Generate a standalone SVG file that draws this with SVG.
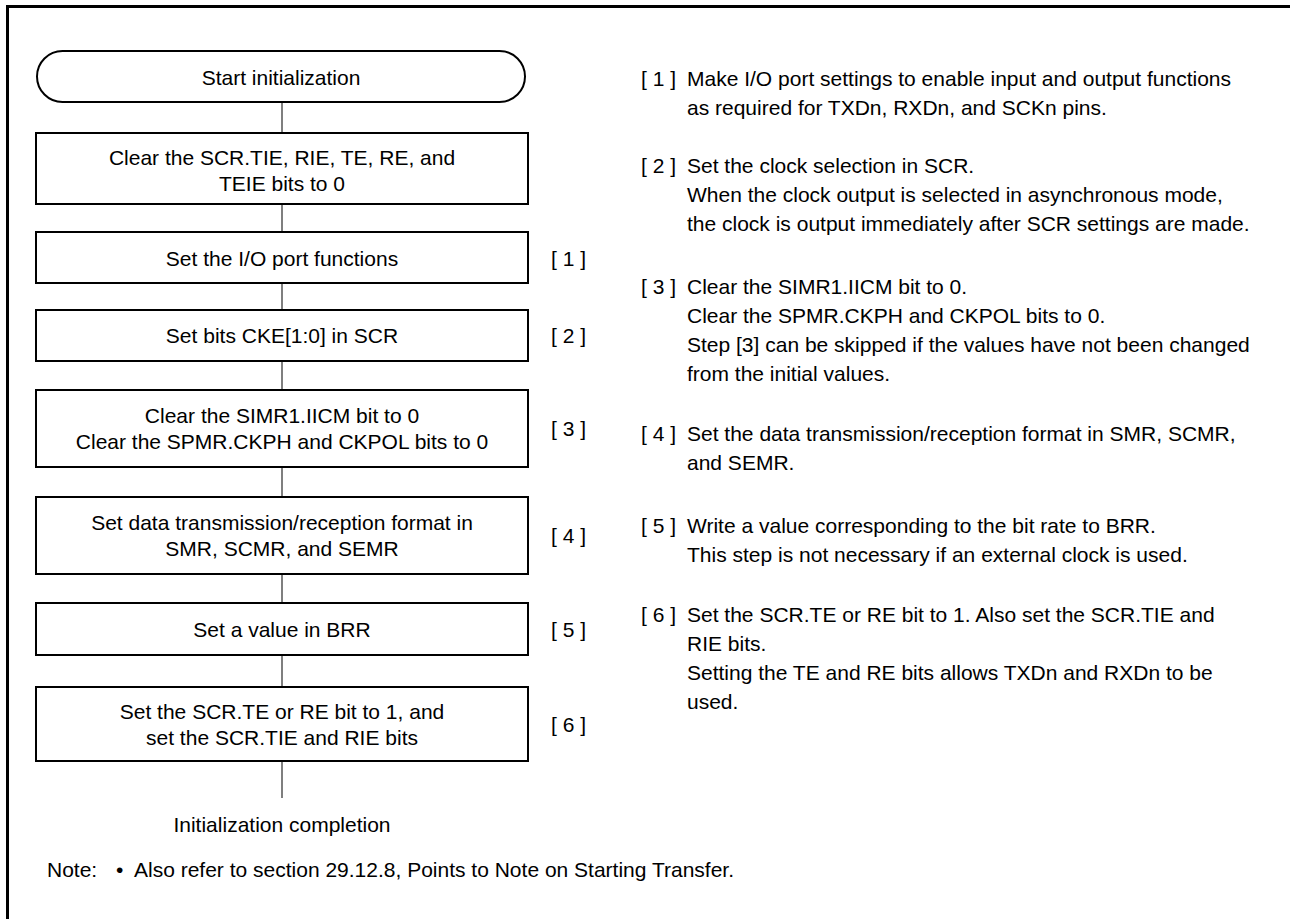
<svg xmlns="http://www.w3.org/2000/svg" width="1290" height="919" viewBox="0 0 1290 919">
<style>
text{font-family:"Liberation Sans",Arial,sans-serif;font-size:21px;fill:#000}
.c{text-anchor:middle}
.box{fill:#fff;stroke:#000;stroke-width:2}
.con{stroke:#555;stroke-width:1.5;fill:none}
.frame{stroke:#000;stroke-width:3;fill:none}
</style>
<rect width="1290" height="919" fill="#fff"/>
<path class="frame" d="M7.5,919 V6.5 H1290"/>
<g id="connectors">
<line class="con" x1="282" y1="102" x2="282" y2="133"/>
<line class="con" x1="282" y1="204" x2="282" y2="232"/>
<line class="con" x1="282" y1="283" x2="282" y2="310"/>
<line class="con" x1="282" y1="361" x2="282" y2="390"/>
<line class="con" x1="282" y1="467" x2="282" y2="497"/>
<line class="con" x1="282" y1="574" x2="282" y2="603"/>
<line class="con" x1="282" y1="655" x2="282" y2="687"/>
<line class="con" x1="282" y1="761" x2="282" y2="798"/>
</g>
<g id="start">
<rect class="box" x="37" y="51" width="488" height="51" rx="25.5"/>
<text class="c" x="281" y="85">Start initialization</text>
</g>
<g id="step0">
<rect class="box" x="36" y="133" width="492" height="71"/>
<text class="c" x="282" y="164.5">Clear the SCR.TIE, RIE, TE, RE, and</text>
<text class="c" x="282" y="190.5">TEIE bits to 0</text>
</g>
<g id="step1">
<rect class="box" x="36" y="232" width="492" height="51"/>
<text class="c" x="282" y="265.5">Set the I/O port functions</text>
<text x="551" y="265.5">[ 1 ]</text>
</g>
<g id="step2">
<rect class="box" x="36" y="310" width="492" height="51"/>
<text class="c" x="282" y="343">Set bits CKE[1:0] in SCR</text>
<text x="551" y="343">[ 2 ]</text>
</g>
<g id="step3">
<rect class="box" x="36" y="390" width="492" height="77"/>
<text class="c" x="282" y="422.5">Clear the SIMR1.IICM bit to 0</text>
<text class="c" x="282" y="448.5">Clear the SPMR.CKPH and CKPOL bits to 0</text>
<text x="551" y="436">[ 3 ]</text>
</g>
<g id="step4">
<rect class="box" x="36" y="497" width="492" height="77"/>
<text class="c" x="282" y="529.5">Set data transmission/reception format in</text>
<text class="c" x="282" y="555.5">SMR, SCMR, and SEMR</text>
<text x="551" y="543">[ 4 ]</text>
</g>
<g id="step5">
<rect class="box" x="36" y="603" width="492" height="52"/>
<text class="c" x="282" y="636.5">Set a value in BRR</text>
<text x="551" y="636.5">[ 5 ]</text>
</g>
<g id="step6">
<rect class="box" x="36" y="687" width="492" height="74"/>
<text class="c" x="282" y="718.5">Set the SCR.TE or RE bit to 1, and</text>
<text class="c" x="282" y="744.5">set the SCR.TIE and RIE bits</text>
<text x="551" y="731.5">[ 6 ]</text>
</g>
<g id="end">
<text class="c" x="282" y="832">Initialization completion</text>
</g>
<g id="notes">
<text x="641" y="85.5">[ 1 ]</text>
<text x="687" y="85.5">Make I/O port settings to enable input and output functions</text>
<text x="687" y="114.5">as required for TXDn, RXDn, and SCKn pins.</text>
<text x="641" y="172.5">[ 2 ]</text>
<text x="687" y="172.5">Set the clock selection in SCR.</text>
<text x="687" y="201.5">When the clock output is selected in asynchronous mode,</text>
<text x="687" y="230.5">the clock is output immediately after SCR settings are made.</text>
<text x="641" y="293.5">[ 3 ]</text>
<text x="687" y="293.5">Clear the SIMR1.IICM bit to 0.</text>
<text x="687" y="322.5">Clear the SPMR.CKPH and CKPOL bits to 0.</text>
<text x="687" y="351.5">Step [3] can be skipped if the values have not been changed</text>
<text x="687" y="380.5">from the initial values.</text>
<text x="641" y="440.5">[ 4 ]</text>
<text x="687" y="440.5">Set the data transmission/reception format in SMR, SCMR,</text>
<text x="687" y="469.5">and SEMR.</text>
<text x="641" y="532.5">[ 5 ]</text>
<text x="687" y="532.5">Write a value corresponding to the bit rate to BRR.</text>
<text x="687" y="561.5">This step is not necessary if an external clock is used.</text>
<text x="641" y="621.5">[ 6 ]</text>
<text x="687" y="621.5">Set the SCR.TE or RE bit to 1. Also set the SCR.TIE and</text>
<text x="687" y="650.5">RIE bits.</text>
<text x="687" y="679.5">Setting the TE and RE bits allows TXDn and RXDn to be</text>
<text x="687" y="708.5">used.</text>
<text x="47" y="877">Note:</text>
<text x="116" y="877">•</text>
<text x="134" y="877">Also refer to section 29.12.8, Points to Note on Starting Transfer.</text>
</g>
</svg>
